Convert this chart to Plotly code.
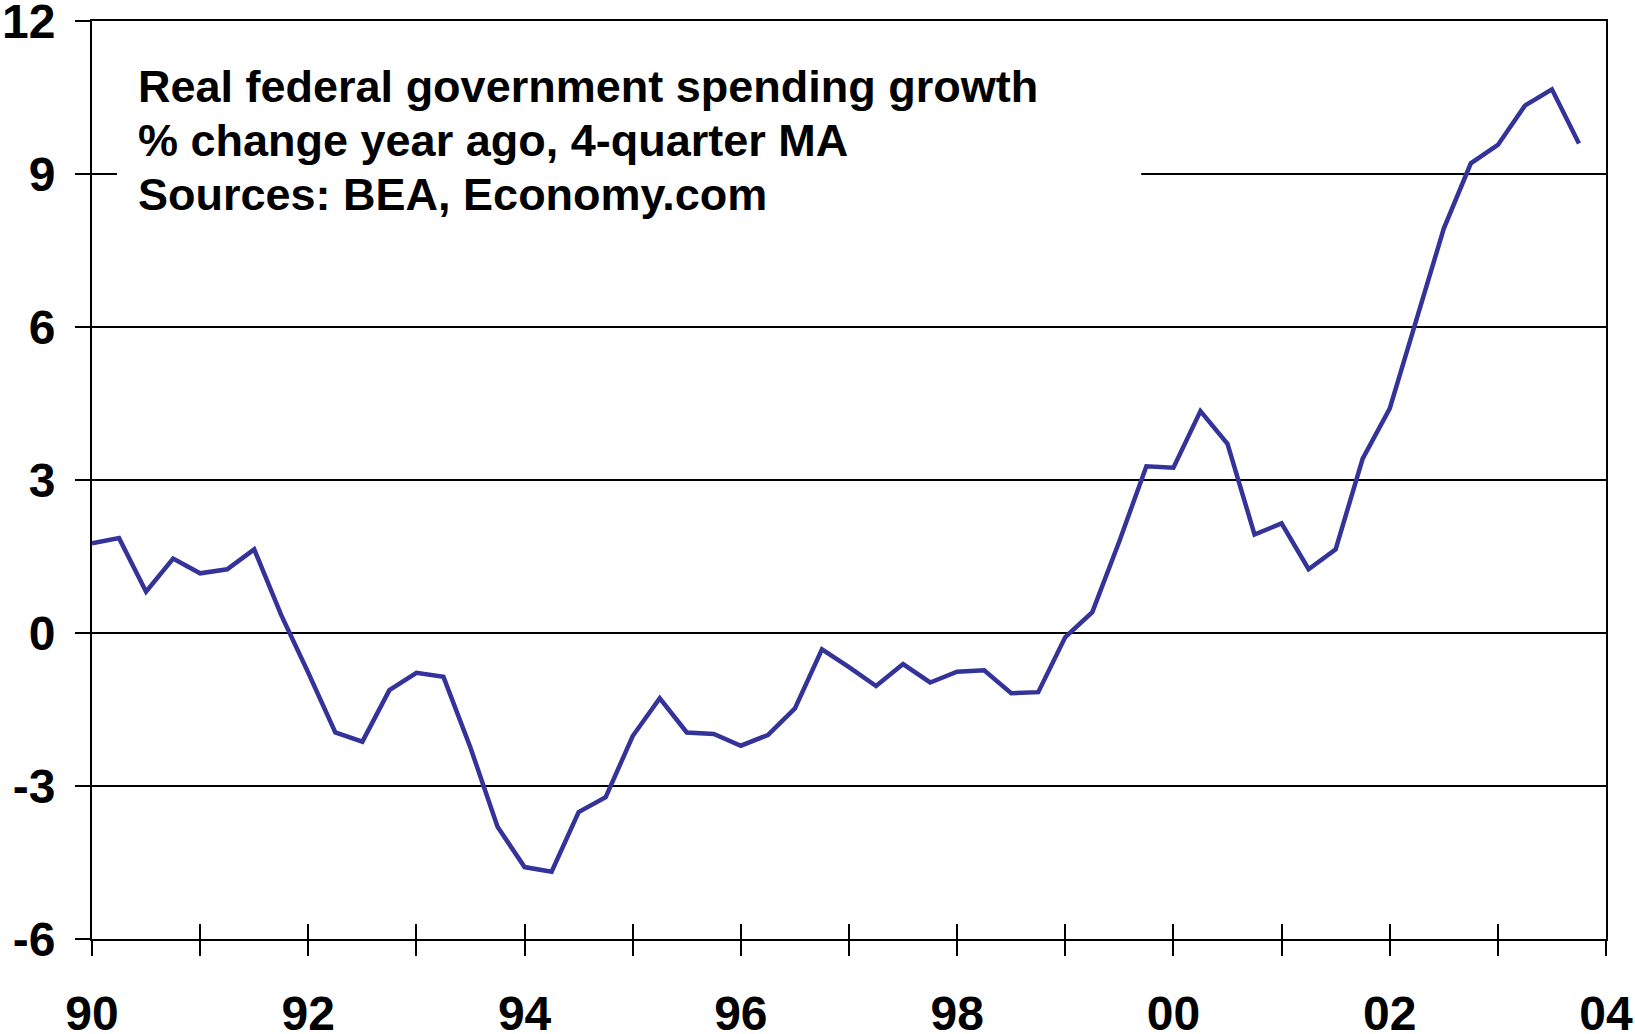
import plotly.graph_objects as go

# Quarterly dates (decimal years), 1990Q1 .. 2003Q4
quarters = [
    1990.00, 1990.25, 1990.50, 1990.75,
    1991.00, 1991.25, 1991.50, 1991.75,
    1992.00, 1992.25, 1992.50, 1992.75,
    1993.00, 1993.25, 1993.50, 1993.75,
    1994.00, 1994.25, 1994.50, 1994.75,
    1995.00, 1995.25, 1995.50, 1995.75,
    1996.00, 1996.25, 1996.50, 1996.75,
    1997.00, 1997.25, 1997.50, 1997.75,
    1998.00, 1998.25, 1998.50, 1998.75,
    1999.00, 1999.25, 1999.50, 1999.75,
    2000.00, 2000.25, 2000.50, 2000.75,
    2001.00, 2001.25, 2001.50, 2001.75,
    2002.00, 2002.25, 2002.50, 2002.75,
    2003.00, 2003.25, 2003.50, 2003.75,
]

# Real federal government spending growth, % change year ago, 4-quarter MA
spending_growth = [
    1.76, 1.86, 0.81, 1.46,
    1.17, 1.25, 1.64, 0.35,
    -0.78, -1.95, -2.13, -1.12,
    -0.78, -0.86, -2.25, -3.80,
    -4.59, -4.68, -3.51, -3.22,
    -2.02, -1.28, -1.95, -1.98,
    -2.21, -2.00, -1.48, -0.32,
    -0.67, -1.04, -0.61, -0.97,
    -0.76, -0.73, -1.18, -1.16,
    -0.08, 0.41, 1.80, 3.27,
    3.24, 4.35, 3.71, 1.93,
    2.15, 1.25, 1.64, 3.42,
    4.40, 6.20, 7.93, 9.21,
    9.57, 10.34, 10.66, 9.60,
]

x_tick_vals = [1990, 1991, 1992, 1993, 1994, 1995, 1996, 1997,
               1998, 1999, 2000, 2001, 2002, 2003, 2004]
x_tick_text = ["90", "", "92", "", "94", "", "96", "", "98", "", "00", "", "02", "", "04"]

y_tick_vals = [-6, -3, 0, 3, 6, 9, 12]
y_tick_text = ["-6", "-3", "0", "3", "6", "9", "12"]

title_lines = [
    "Real federal government spending growth",
    "% change year ago, 4-quarter MA",
    "Sources: BEA, Economy.com",
]
title_line_y = [0.9285, 0.8695, 0.8105]  # paper positions of the three lines

FONT = "Liberation Sans, Arial, Helvetica, sans-serif"
LINE_COLOR = "#333399"

fig = go.Figure()
fig.add_trace(go.Scatter(
    x=quarters, y=spending_growth, mode="lines",
    line=dict(color=LINE_COLOR, width=4.5),
    showlegend=False, hoverinfo="x+y",
))
# empty trace so the overlaid tick axis (inside half of crossing ticks) is rendered
fig.add_trace(go.Scatter(x=[], y=[], xaxis="x2", yaxis="y",
                         showlegend=False, hoverinfo="skip"))

fig.update_layout(
    width=1635, height=1034,
    margin=dict(l=92, r=29, t=21, b=95),
    paper_bgcolor="white", plot_bgcolor="white",
    showlegend=False,
    xaxis=dict(
        range=[1990, 2004], tickmode="array",
        tickvals=x_tick_vals, ticktext=x_tick_text,
        ticks="outside", ticklen=15, tickwidth=2, tickcolor="black",
        showline=True, linecolor="black", linewidth=2, mirror=True,
        showgrid=False, zeroline=False, automargin=False,
        tickfont=dict(family=FONT, size=48, color="black", weight="bold"),
        ticklabelstandoff=16, ticklabeloverflow="allow",
    ),
    xaxis2=dict(
        range=[1990, 2004], overlaying="x", anchor="y", side="bottom",
        tickmode="array", tickvals=x_tick_vals,
        ticks="inside", ticklen=15, tickwidth=2, tickcolor="black",
        showticklabels=False, showline=False, showgrid=False, zeroline=False,
        automargin=False,
    ),
    yaxis=dict(
        range=[-6, 12], tickmode="array",
        tickvals=y_tick_vals, ticktext=y_tick_text,
        ticks="outside", ticklen=15, tickwidth=2, tickcolor="black",
        showline=True, linecolor="black", linewidth=2, mirror=True,
        showgrid=True, gridcolor="black", gridwidth=1.5,
        zeroline=True, zerolinecolor="black", zerolinewidth=1.5,
        automargin=False,
        tickfont=dict(family=FONT, size=48, color="black", weight="bold"),
        ticklabelstandoff=10, ticklabeloverflow="allow",
    ),
)

# white panel behind the caption that interrupts the gridline at 9
fig.add_shape(
    type="rect", xref="paper", yref="paper",
    x0=0.0165, x1=0.693, y0=0.765, y1=0.975,
    fillcolor="white", line=dict(width=0), layer="above",
)

for text, ypos in zip(title_lines, title_line_y):
    fig.add_annotation(
        xref="paper", yref="paper", x=0.0292, y=ypos,
        xanchor="left", yanchor="middle",
        text=text, align="left", showarrow=False,
        font=dict(family=FONT, size=45, color="black", weight="bold"),
    )

fig.write_html("out.html")
